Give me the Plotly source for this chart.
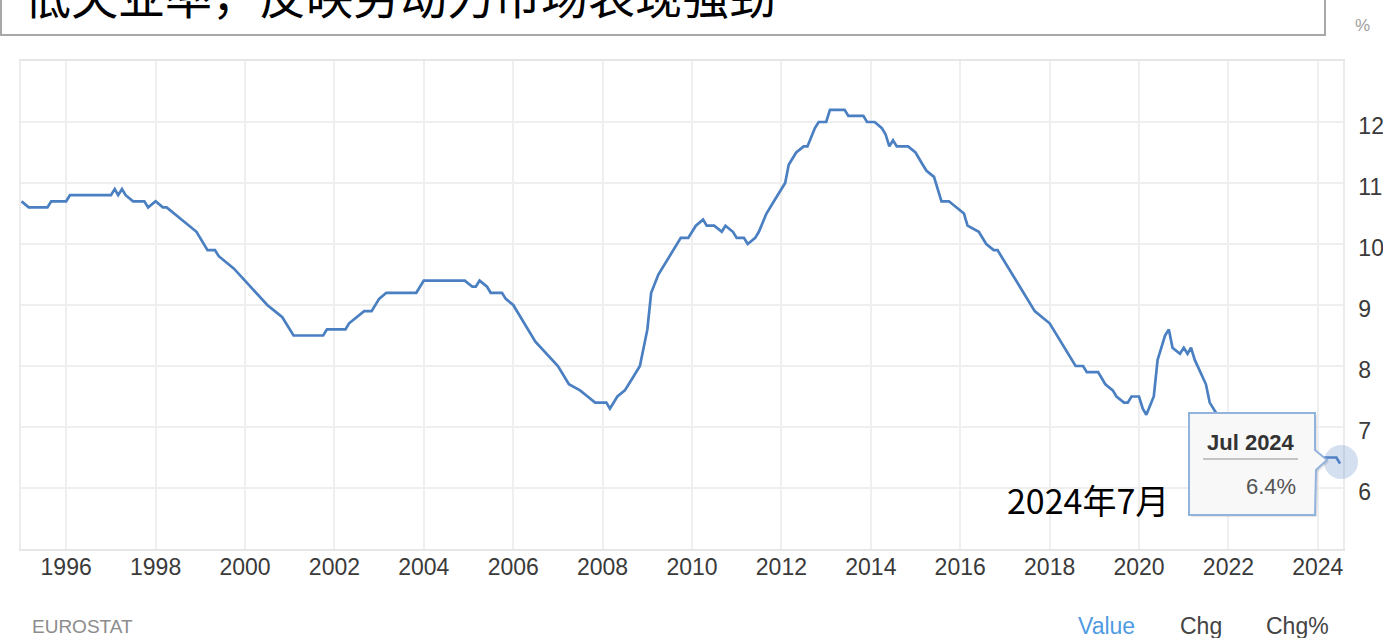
import plotly.graph_objects as go

# ---- data: euro area unemployment rate, %
dates = [
    "1995-01", "1995-03", "1995-08", "1995-09", "1996-01", "1996-02", "1997-01", "1997-02",
    "1997-03", "1997-04", "1997-05", "1997-07", "1997-10", "1997-11", "1998-01", "1998-03",
    "1998-04", "1998-06", "1998-08", "1998-10", "1998-12", "1999-03", "1999-05", "1999-06",
    "1999-08", "1999-10", "2000-01", "2000-04", "2000-07", "2000-09", "2000-11", "2001-02",
    "2001-10", "2001-11", "2002-04", "2002-05", "2002-07", "2002-09", "2002-11", "2003-01",
    "2003-03", "2003-11", "2004-01", "2004-12", "2005-02", "2005-03", "2005-04", "2005-06",
    "2005-07", "2005-10", "2005-11", "2006-01", "2006-07", "2006-10", "2007-01", "2007-04",
    "2007-07", "2007-09", "2007-11", "2008-02", "2008-03", "2008-05", "2008-07", "2008-09",
    "2008-11", "2009-01", "2009-02", "2009-04", "2009-07", "2009-10", "2009-12", "2010-02",
    "2010-04", "2010-05", "2010-07", "2010-09", "2010-10", "2010-12", "2011-01", "2011-03",
    "2011-04", "2011-06", "2011-07", "2011-09", "2011-11", "2012-02", "2012-03", "2012-05",
    "2012-07", "2012-08", "2012-10", "2012-11", "2013-01", "2013-02", "2013-06", "2013-07",
    "2013-11", "2013-12", "2014-02", "2014-04", "2014-05", "2014-06", "2014-07", "2014-08",
    "2014-11", "2015-01", "2015-03", "2015-04", "2015-06", "2015-08", "2015-10", "2015-12",
    "2016-02", "2016-03", "2016-06", "2016-08", "2016-10", "2016-11", "2017-01", "2017-03",
    "2017-05", "2017-07", "2017-09", "2017-11", "2018-01", "2018-08", "2018-10", "2018-11",
    "2019-02", "2019-04", "2019-06", "2019-07", "2019-09", "2019-10", "2019-11", "2020-01",
    "2020-02", "2020-03", "2020-05", "2020-06", "2020-08", "2020-09", "2020-10", "2020-12",
    "2021-01", "2021-02", "2021-03", "2021-04", "2021-07", "2021-08", "2021-10", "2022-01",
    "2022-04", "2022-08", "2023-01", "2023-06", "2024-01", "2024-06", "2024-07",
]
values = [
    10.7, 10.6, 10.6, 10.7, 10.7, 10.8, 10.8, 10.9,
    10.8, 10.9, 10.8, 10.7, 10.7, 10.6, 10.7, 10.6,
    10.6, 10.5, 10.4, 10.3, 10.2, 9.9, 9.9, 9.8,
    9.7, 9.6, 9.4, 9.2, 9.0, 8.9, 8.8, 8.5,
    8.5, 8.6, 8.6, 8.7, 8.8, 8.9, 8.9, 9.1,
    9.2, 9.2, 9.4, 9.4, 9.3, 9.3, 9.4, 9.3,
    9.2, 9.2, 9.1, 9.0, 8.4, 8.2, 8.0, 7.7,
    7.6, 7.5, 7.4, 7.4, 7.3, 7.5, 7.6, 7.8,
    8.0, 8.6, 9.2, 9.5, 9.8, 10.1, 10.1, 10.3,
    10.4, 10.3, 10.3, 10.2, 10.3, 10.2, 10.1, 10.1,
    10.0, 10.1, 10.2, 10.5, 10.7, 11.0, 11.3, 11.5,
    11.6, 11.6, 11.9, 12.0, 12.0, 12.2, 12.2, 12.1,
    12.1, 12.0, 12.0, 11.9, 11.8, 11.6, 11.7, 11.6,
    11.6, 11.5, 11.3, 11.2, 11.1, 10.7, 10.7, 10.6,
    10.5, 10.3, 10.2, 10.0, 9.9, 9.9, 9.7, 9.5,
    9.3, 9.1, 8.9, 8.8, 8.7, 8.0, 8.0, 7.9,
    7.9, 7.7, 7.6, 7.5, 7.4, 7.4, 7.5, 7.5,
    7.3, 7.2, 7.5, 8.1, 8.5, 8.6, 8.3, 8.2,
    8.3, 8.2, 8.3, 8.1, 7.7, 7.4, 7.2, 7.0,
    6.8, 6.7, 6.6, 6.5, 6.5, 6.5, 6.4,
]
y_ticks = [6, 7, 8, 9, 10, 11, 12]
x_tick_years = ["1996", "1998", "2000", "2002", "2004", "2006", "2008", "2010",
                "2012", "2014", "2016", "2018", "2020", "2022", "2024"]

title_text = "低失业率，反映劳动力市场表现强劲"
tooltip_date = "Jul 2024"
tooltip_value = "6.4%"
note_text = "2024年7月"

# ---- layout geometry (pixels)
W, H = 1383, 638
PL, PR, PT, PB = 21, 1343, 61, 549


def fx(px):
    return (px - PL) / (PR - PL)


def fy(py):
    return (PB - py) / (PB - PT)


LINE = "#4a7fc1"
GRID = "#efefef"
SANS = "Liberation Sans, Arial, sans-serif"
CJK = "Noto Sans CJK SC, sans-serif"

fig = go.Figure()
fig.add_trace(go.Scatter(
    x=[d + "-01" for d in dates], y=values, mode="lines",
    line=dict(color=LINE, width=2.7), hoverinfo="skip", showlegend=False,
))

fig.update_layout(
    width=W, height=H,
    margin=dict(l=PL, r=W - PR, t=PT, b=H - PB, pad=0, autoexpand=False),
    paper_bgcolor="white", plot_bgcolor="white",
    showlegend=False,
    xaxis=dict(
        type="date", range=["1994-12-28", "2024-07-25"],
        tickvals=[y + "-01-01" for y in x_tick_years], ticktext=x_tick_years,
        showgrid=True, gridcolor=GRID, gridwidth=1.5,
        showline=True, linecolor="#e6e6e6", linewidth=2, mirror=True,
        ticks="", ticklabelstandoff=-4, automargin=False,
        tickfont=dict(family=SANS, size=23, color="#3a3a3a"),
        zeroline=False,
    ),
    yaxis=dict(
        range=[5, 13], side="right", tickvals=y_ticks,
        showgrid=True, gridcolor=GRID, gridwidth=1.5,
        showline=True, linecolor="#ececec", linewidth=1.5, mirror=True,
        ticks="", ticklabelstandoff=9, ticklabelshift=4, automargin=False,
        tickfont=dict(family=SANS, size=23, color="#3a3a3a"),
        zeroline=False,
    ),
)

shapes = []
annotations = []

# title box (cut off at the top of the picture)
shapes.append(dict(type="rect", xref="paper", yref="paper",
                   x0=fx(1), x1=fx(1325), y0=fy(35), y1=fy(-20),
                   line=dict(color="#a8a8a8", width=2), fillcolor="rgba(0,0,0,0)", layer="above"))
annotations.append(dict(xref="paper", yref="paper", x=fx(22), y=fy(-6),
                        xanchor="left", yanchor="middle", showarrow=False,
                        text=title_text, font=dict(family=CJK, size=47, color="black")))

# unit label
annotations.append(dict(xref="paper", yref="paper", x=fx(1362), y=fy(25),
                        xanchor="center", yanchor="middle", showarrow=False,
                        text="%", font=dict(family=SANS, size=17, color="#a0a0a0")))

# footer
annotations.append(dict(xref="paper", yref="paper", x=fx(30), y=fy(626),
                        xanchor="left", yanchor="middle", showarrow=False,
                        text="EUROSTAT", font=dict(family=SANS, size=19, color="#8c8c8c")))
for txt, cx, col in [("Value", 1106, "#4f9be3"), ("Chg", 1201, "#444444"), ("Chg%", 1297, "#444444")]:
    annotations.append(dict(xref="paper", yref="paper", x=fx(cx), y=fy(626),
                            xanchor="center", yanchor="middle", showarrow=False,
                            text=txt, font=dict(family=SANS, size=23, color=col)))

# highlight circle on last point
shapes.append(dict(type="circle", xref="paper", yref="paper",
                   x0=fx(1324), x1=fx(1358), y0=fy(479), y1=fy(445),
                   line=dict(width=0), fillcolor="rgba(100,140,200,0.28)", layer="above"))

# tooltip box with pointer
def tip_path(dx=0, dy=0):
    pts = [(1189, 413), (1315, 413), (1315, 450), (1327, 460), (1316, 470), (1315, 515), (1189, 515)]
    s = "M " + " L ".join(f"{fx(x + dx):.5f},{fy(y + dy):.5f}" for x, y in pts) + " Z"
    return s

shapes.append(dict(type="path", xref="paper", yref="paper", path=tip_path(2, 2),
                   line=dict(width=0), fillcolor="rgba(0,0,0,0.10)", layer="above"))
shapes.append(dict(type="path", xref="paper", yref="paper", path=tip_path(),
                   line=dict(color="#93b3dd", width=2), fillcolor="#f8f8f8", layer="above"))
shapes.append(dict(type="line", xref="paper", yref="paper",
                   x0=fx(1203), x1=fx(1298), y0=fy(459), y1=fy(459),
                   line=dict(color="#c4c4c4", width=2), layer="above"))
annotations.append(dict(xref="paper", yref="paper", x=fx(1251), y=fy(442),
                        xanchor="center", yanchor="middle", showarrow=False,
                        text="<b>" + tooltip_date + "</b>",
                        font=dict(family=SANS, size=22, color="#333333")))
annotations.append(dict(xref="paper", yref="paper", x=fx(1298), y=fy(486),
                        xanchor="right", yanchor="middle", showarrow=False,
                        text=tooltip_value, font=dict(family=SANS, size=22, color="#555555")))

# Chinese note
annotations.append(dict(xref="paper", yref="paper", x=fx(1005), y=fy(499),
                        xanchor="left", yanchor="middle", showarrow=False,
                        text=note_text, font=dict(family=CJK, size=34, color="black")))

fig.update_layout(shapes=shapes, annotations=annotations)
fig.write_html("out.html", config={"displayModeBar": False},
               post_script="document.body.style.margin='0';document.body.style.overflow='hidden';")
